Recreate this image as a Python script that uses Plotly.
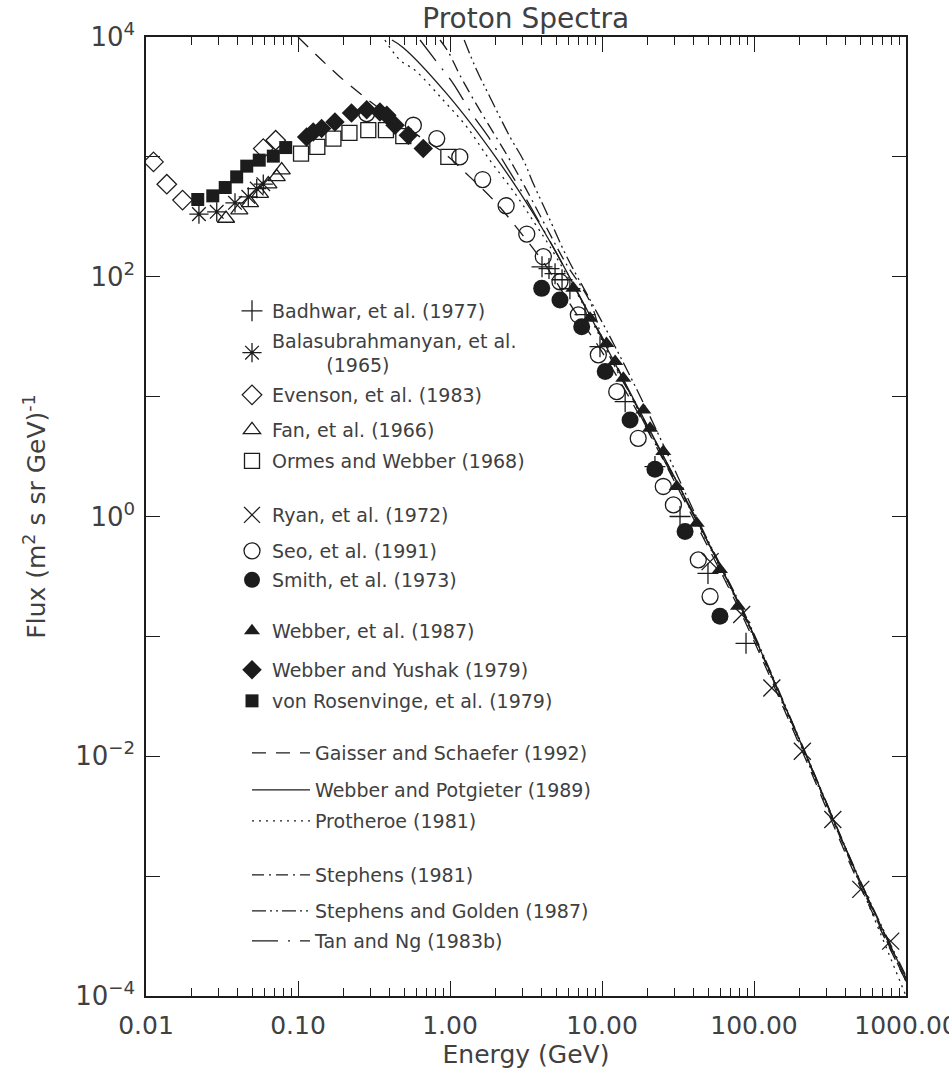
import plotly.graph_objects as go

# ---------------- data ----------------
badhwar_E = [4.03, 4.48, 4.91, 5.46, 6.15, 7.73, 9.7, 14.2, 22.3, 32.6, 49.8, 88.6]
badhwar_F = [121, 117, 106, 94.4, 79.4, 48.3, 26.1, 9.08, 2.61, 1.0, 0.335, 0.0875]

balasub_E = [0.0223, 0.0292, 0.0385, 0.0471, 0.0535, 0.0591]
balasub_F = [333, 348, 414, 464, 544, 592]

evenson_E = [0.0112, 0.0137, 0.0174, 0.0591, 0.0713]
evenson_F = [908, 592, 436, 1172, 1377]

fan_E = [0.0336, 0.0411, 0.0483, 0.0562, 0.0638, 0.0724, 0.0781]
fan_F = [306, 359, 414, 494, 592, 681, 775]

ormes_E = [0.1047, 0.134, 0.171, 0.218, 0.290, 0.379, 0.493, 0.975]
ormes_F = [1066, 1211, 1421, 1585, 1669, 1669, 1487, 1000]

ryan_E = [51.4, 83, 131, 208, 330, 504, 793]
ryan_F = [0.42, 0.152, 0.0371, 0.011, 0.00297, 7.75e-4, 2.87e-4]

seo_E = [0.283, 0.574, 0.818, 1.16, 1.64, 2.34, 3.2, 4.11, 5.29, 6.99, 9.46, 12.5,
         17.3, 25.3, 29.5, 43.0, 51.4]
seo_F = [2296, 1836, 1421, 1000, 647, 391, 227, 147, 90.8, 48, 22.3, 11.0,
         4.49, 1.78, 1.25, 0.435, 0.215]

smith_E = [4.01, 5.29, 7.35, 10.5, 15.3, 22.3, 35.2, 59.7]
smith_F = [80, 63.9, 38.3, 16.2, 6.39, 2.48, 0.75, 0.147]

webber87_E = [6.48, 8.34, 10.7, 12.2, 13.8, 18.7, 20.7, 25.3, 31.0, 42.0, 59.7, 78.5]
webber87_F = [80, 45, 27.8, 19.6, 14.2, 7.75, 5.44, 3.48, 1.78, 0.88, 0.362, 0.178]

webyush_E = [0.114, 0.126, 0.143, 0.175, 0.225, 0.283, 0.346, 0.384, 0.435, 0.532, 0.667]
webyush_F = [1468, 1615, 1722, 1958, 2326, 2478, 2371, 2225, 1836, 1517, 1172]

rosen_E = [0.0219, 0.0275, 0.0332, 0.0395, 0.0460, 0.0556, 0.0688, 0.083]
rosen_F = [441, 473, 555, 681, 837, 939, 1014, 1196]

# model curves
gaisser_E = [0.1, 0.189, 0.346, 0.635, 0.927, 1.35, 1.98, 2.89, 4.22, 6.64, 9.7,
             17.8, 44.2, 87.3, 201, 498, 1000]
gaisser_F = [10000, 4642, 2512, 1468, 1059, 681, 422, 237, 126, 51.1, 25.1,
             6.81, 0.750, 0.133, 0.0121, 8.25e-4, 1.33e-4]

potg_E = [0.415, 0.493, 0.951, 2.03, 3.53, 5.04, 7.17, 10.5, 17.8, 44.2, 87.3, 201, 498, 1000]
potg_F = [9440, 8150, 3370, 968, 337, 156, 68.1, 27.1, 7.50, 0.825, 0.147, 0.01334, 9.09e-4, 1.41e-4]

proth_E = [0.373, 0.469, 0.589, 0.904, 1.29, 1.83, 2.68, 3.62, 4.55, 7.17, 10.5, 17.8,
           44.2, 87.3, 201, 498, 1000]
proth_F = [9440, 6397, 5275, 2966, 1778, 938, 494, 278, 178, 65.6, 26.1, 7.22,
           0.794, 0.141, 0.0126, 8.58e-4, 1.0e-4]

steph_E = [0.86, 0.975, 1.16, 1.46, 1.83, 2.41, 3.11, 4.22, 5.71, 8.34, 10.5, 17.8,
           44.2, 87.3, 201, 498, 1000]
steph_F = [9440, 7500, 4820, 2870, 1778, 1000, 562, 271, 133, 61.9, 26.1, 7.36,
           0.825, 0.144, 0.0131, 8.74e-4, 1.33e-4]

stgold_E = [1.24, 1.5, 1.83, 2.48, 3.04, 3.53, 4.55, 5.86, 8.34, 12.2, 20.7,
            44.2, 87.3, 201, 498, 1000]
stgold_F = [9440, 5275, 3162, 1468, 938, 600, 297, 147, 64.3, 26.1, 6.81,
            0.858, 0.1525, 0.0136, 9.26e-4, 1.47e-4]

tan_E = [0.635, 0.818, 1.05, 1.39, 1.79, 2.36, 3.11, 3.91, 5.04, 7.73, 11.3, 17.8,
         44.2, 87.3, 201, 498, 1000]
tan_F = [9440, 6190, 4083, 2296, 1468, 826, 464, 278, 156, 56.2, 23.7, 7.08,
         0.810, 0.147, 0.01334, 9.09e-4, 1.39e-4]

x_tickvals = [0.01, 0.1, 1, 10, 100, 1000]
x_ticktext = ["0.01", "0.10", "1.00", "10.00", "100.00", "1000.00"]
y_tickvals = [1e-4, 1e-3, 1e-2, 1e-1, 1, 10, 100, 1000, 10000]
y_ticktext = ["10<sup>−4</sup>", "", "10<sup>−2</sup>", "", "10<sup>0</sup>", "",
              "10<sup>2</sup>", "", "10<sup>4</sup>"]

# ---------------- styling ----------------
INK = "#1c1c1c"
TXT = "#404040"
FONT = "DejaVu Sans"
LW = 1.3

# plot area in pixels
W, H = 949, 1079
ML, MR, MT, MB = 146, 43, 37, 83
PLOT_TOP, PLOT_BOT = MT, H - MB
PLOT_H = PLOT_BOT - PLOT_TOP


def paper_y(py):
    return (PLOT_BOT - py) / PLOT_H


fig = go.Figure()

# (name, x, y, dash, legend-row pixel y)
lines = [
    ("Gaisser and Schaefer (1992)", gaisser_E, gaisser_F, "14px,10px", 753),
    ("Webber and Potgieter (1989)", potg_E, potg_F, "solid", 790),
    ("Protheroe (1981)", proth_E, proth_F, "2px,5px", 821),
    ("Stephens (1981)", steph_E, steph_F, "12px,5px,2px,5px", 875),
    ("Stephens and Golden (1987)", stgold_E, stgold_F, "14px,4px,2px,4px,2px,4px", 911),
    ("Tan and Ng (1983b)", tan_E, tan_F, "26px,10px,2px,10px", 941),
]

NB = "\u00a0"
markers = [
    ("Badhwar, et al. (1977)", badhwar_E, badhwar_F, "cross-thin-open", 15, 311),
    ("Balasubrahmanyan, et al.<br>" + NB * 9 + "(1965)",
     balasub_E, balasub_F, "asterisk-open", 16, 353),
    ("Evenson, et al. (1983)", evenson_E, evenson_F, "diamond-open", 15, 395),
    ("Fan, et al. (1966)", fan_E, fan_F, "triangle-up-open", 15, 430),
    ("Ormes and Webber (1968)", ormes_E, ormes_F, "square-open", 15, 461),
    ("Ryan, et al. (1972)", ryan_E, ryan_F, "x-thin-open", 17, 515),
    ("Seo, et al. (1991)", seo_E, seo_F, "circle-open", 16, 551),
    ("Smith, et al. (1973)", smith_E, smith_F, "circle", 17, 580),
    ("Webber, et al. (1987)", webber87_E, webber87_F, "triangle-up", 14, 631),
    ("Webber and Yushak (1979)", webyush_E, webyush_F, "diamond", 15, 670),
    ("von Rosenvinge, et al. (1979)", rosen_E, rosen_F, "square", 13, 701),
]

legends = {}
k = 0


def legend_key(i):
    return "legend" if i == 1 else f"legend{i}"


for name, xs, ys, dash, py in lines:
    k += 1
    key = legend_key(k)
    fig.add_trace(go.Scatter(
        x=xs, y=ys, mode="lines", name=name, legend=key,
        line=dict(color=INK, width=LW, dash=dash), line_shape="spline",
    ))
    legends[key] = dict(x=(247 - ML) / (W - ML - MR), y=paper_y(py),
                        xanchor="left", yanchor="middle", itemwidth=58)

for name, xs, ys, sym, size, py in markers:
    k += 1
    key = legend_key(k)
    filled = not sym.endswith("open")
    fig.add_trace(go.Scatter(
        x=xs, y=ys, mode="markers", name=name, legend=key,
        marker=dict(symbol=sym, size=size, color=INK,
                    line=dict(color=INK, width=1.3 if not filled else 0)),
    ))
    legends[key] = dict(x=(232 - ML) / (W - ML - MR), y=paper_y(py),
                        xanchor="left", yanchor="middle", itemwidth=30)

for key, spec in legends.items():
    spec.update(bgcolor="rgba(0,0,0,0)", borderwidth=0,
                font=dict(family=FONT, size=19, color=TXT))

minor_vals = [m * 10 ** d for d in range(-2, 3) for m in range(2, 10)]

fig.update_layout(
    width=W, height=H,
    margin=dict(l=ML, r=MR, t=MT, b=MB, autoexpand=False),
    paper_bgcolor="white", plot_bgcolor="white",
    font=dict(family=FONT, color=TXT),
    title=dict(text="Proton Spectra", x=0.554, xanchor="center", y=0.983,
               yanchor="middle", font=dict(size=28, color=TXT)),
    showlegend=True,
    xaxis=dict(
        type="log", range=[-2, 3], showgrid=False, zeroline=False,
        showline=True, linecolor=INK, linewidth=1.5, mirror="allticks",
        ticks="inside", ticklen=15, tickwidth=1.2, tickcolor=INK,
        tickmode="array", tickvals=x_tickvals, ticktext=x_ticktext,
        tickfont=dict(size=25, color=TXT), ticklabeloverflow="allow",
        ticklabelstandoff=6, automargin=False,
        minor=dict(ticks="inside", ticklen=8, tickwidth=1.2, tickcolor=INK,
                   tickmode="array", tickvals=minor_vals, showgrid=False),
        title=dict(text="Energy (GeV)", font=dict(size=25, color=TXT), standoff=4),
    ),
    yaxis=dict(
        type="log", range=[-4, 4], showgrid=False, zeroline=False,
        showline=True, linecolor=INK, linewidth=1.5, mirror="allticks",
        ticks="inside", ticklen=14, tickwidth=1.2, tickcolor=INK,
        tickmode="array", tickvals=y_tickvals, ticktext=y_ticktext,
        tickfont=dict(size=26, color=TXT), ticklabelstandoff=4, automargin=False,
        title=dict(text="Flux (m<sup>2</sup> s sr GeV)<sup>-1</sup>",
                   font=dict(size=25, color=TXT), standoff=22),
    ),
    **legends,
)

fig.write_html("out.html")
